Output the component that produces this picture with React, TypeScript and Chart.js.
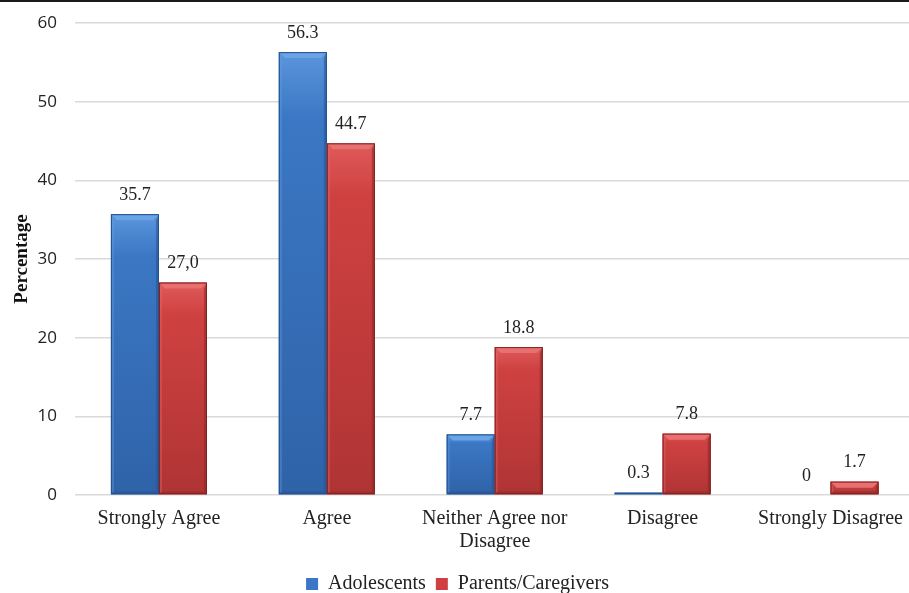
import React, { useEffect, useRef } from "react";
import { Chart, registerables } from "chart.js";

Chart.register(...registerables);

const categories: (string | string[])[] = [
  "Strongly Agree",
  "Agree",
  ["Neither Agree nor", "Disagree"],
  "Disagree",
  "Strongly Disagree",
];
const adolescents = [35.7, 56.3, 7.7, 0.3, 0];
const parents = [27.0, 44.7, 18.8, 7.8, 1.7];
const adolescentLabels = ["35.7", "56.3", "7.7", "0.3", "0"];
const parentLabels = ["27,0", "44.7", "18.8", "7.8", "1.7"];
const seriesNames = ["Adolescents", "Parents/Caregivers"];
const yTicks = { min: 0, max: 60, step: 10 };

const FONT = "'Liberation Serif', 'Times New Roman', serif";
const SANS = "'Open Sans', 'Noto Sans', sans-serif";

const palettes = [
  { top: "#5a95dc", main: "#3b77c4", bottom: "#2f63a8", light: "#6aa3e6", dark: "#275493", edge: "#24508c" },
  { top: "#e05a5a", main: "#cf4141", bottom: "#b03434", light: "#e87070", dark: "#8e2828", edge: "#7e2222" },
];

const bevelPlugin = {
  id: "bevel",
  afterDatasetsDraw(chart: any) {
    const ctx = chart.ctx as CanvasRenderingContext2D;
    chart.data.datasets.forEach((ds: any, di: number) => {
      const meta = chart.getDatasetMeta(di);
      const pal = palettes[di];
      meta.data.forEach((bar: any) => {
        const { x, y, base, width } = bar.getProps(["x", "y", "base", "width"], true);
        const h = base - y;
        if (h <= 0.5) return;
        const l = x - width / 2;
        const r = x + width / 2;
        const t = y;
        const bt = base;
        ctx.save();
        const g = ctx.createLinearGradient(0, t, 0, bt);
        g.addColorStop(0, pal.top);
        g.addColorStop(0.15, pal.main);
        g.addColorStop(1, pal.bottom);
        ctx.fillStyle = g;
        ctx.fillRect(l, t, width, h);
        const b = Math.min(6, h / 2);
        if (h > 3) {
          ctx.fillStyle = pal.light;
          ctx.beginPath();
          ctx.moveTo(l, t);
          ctx.lineTo(r, t);
          ctx.lineTo(r - b, t + b);
          ctx.lineTo(l + b, t + b);
          ctx.closePath();
          ctx.fill();
          ctx.fillStyle = pal.dark;
          ctx.globalAlpha = 0.55;
          ctx.beginPath();
          ctx.moveTo(r, t);
          ctx.lineTo(r, bt);
          ctx.lineTo(r - 3, bt - 3);
          ctx.lineTo(r - 3, t + b);
          ctx.closePath();
          ctx.fill();
          ctx.globalAlpha = 0.5;
          ctx.beginPath();
          ctx.moveTo(l, bt);
          ctx.lineTo(r, bt);
          ctx.lineTo(r - 3, bt - 3);
          ctx.lineTo(l + 3, bt - 3);
          ctx.closePath();
          ctx.fill();
          ctx.fillStyle = pal.light;
          ctx.globalAlpha = 0.35;
          ctx.beginPath();
          ctx.moveTo(l, t);
          ctx.lineTo(l + 3, t + b);
          ctx.lineTo(l + 3, bt - 3);
          ctx.lineTo(l, bt);
          ctx.closePath();
          ctx.fill();
          ctx.globalAlpha = 1;
        }
        ctx.strokeStyle = pal.edge;
        ctx.lineWidth = 1;
        ctx.strokeRect(l + 0.5, t + 0.5, width - 1, h - 1);
        ctx.restore();
      });
    });
  },
};

const labelPlugin = {
  id: "valueLabels",
  afterDatasetsDraw(chart: any) {
    const ctx = chart.ctx as CanvasRenderingContext2D;
    const texts = [adolescentLabels, parentLabels];
    ctx.save();
    ctx.font = `18px ${FONT}`;
    ctx.fillStyle = "#222";
    ctx.textAlign = "center";
    ctx.textBaseline = "middle";
    chart.data.datasets.forEach((_ds: any, di: number) => {
      const meta = chart.getDatasetMeta(di);
      meta.data.forEach((bar: any, i: number) => {
        const { x, y } = bar.getProps(["x", "y"], true);
        ctx.fillText(texts[di][i], x, y - 19);
      });
    });
    ctx.restore();
  },
};

export default function App() {
  const ref = useRef<HTMLCanvasElement>(null);
  useEffect(() => {
    if (!ref.current) return;
    const chart = new Chart(ref.current, {
      type: "bar",
      data: {
        labels: categories as any,
        datasets: [
          {
            label: seriesNames[0],
            data: adolescents,
            backgroundColor: palettes[0].main,
            borderWidth: 0,
            categoryPercentage: 0.572,
            barPercentage: 1,
          },
          {
            label: seriesNames[1],
            data: parents,
            backgroundColor: palettes[1].main,
            borderWidth: 0,
            categoryPercentage: 0.572,
            barPercentage: 1,
          },
        ],
      },
      options: {
        animation: false,
        responsive: false,
        devicePixelRatio: 1,
        layout: { padding: { top: 23, right: 0, bottom: 0, left: 0 } },
        plugins: {
          legend: {
            position: "bottom",
            labels: {
              font: { family: FONT, size: 20 },
              color: "#222",
              boxWidth: 12,
              boxHeight: 12,
              padding: 10,
            },
          },
          tooltip: { enabled: false },
        },
        scales: {
          x: {
            grid: { display: false, drawTicks: false },
            border: { display: false },
            ticks: {
              font: { family: FONT, size: 20, lineHeight: 1.15 },
              color: "#222",
              padding: 12,
              maxRotation: 0,
              autoSkip: false,
            },
            afterFit: (s: any) => {
              s.height = 69;
            },
          },
          y: {
            min: yTicks.min,
            max: yTicks.max,
            ticks: {
              stepSize: yTicks.step,
              font: { family: SANS, size: 17 },
              color: "#222",
              padding: 0,
            },
            grid: {
              color: "#d9d9d9",
              lineWidth: 1.5,
              drawTicks: true,
              tickLength: 18,
              tickColor: "rgba(0,0,0,0)",
            },
            border: { display: false },
            title: {
              display: true,
              text: "Percentage",
              font: { family: FONT, size: 19, weight: "bold" },
              color: "#111",
              padding: { top: 11, bottom: 0 },
            },
            afterFit: (s: any) => {
              s.width = 75;
            },
          },
        },
      },
      plugins: [bevelPlugin, labelPlugin],
    });
    return () => chart.destroy();
  }, []);

  return (
    <div
      style={{
        position: "absolute",
        left: 0,
        top: 0,
        width: 909,
        height: 593,
        overflow: "hidden",
        background: "#fff",
      }}
    >
      <canvas ref={ref} width={915} height={604} style={{ width: 915, height: 604, display: "block" }} />
      <div
        style={{
          position: "absolute",
          left: 0,
          top: 0,
          width: 909,
          height: 2,
          background: "#1a1a1a",
        }}
      />
    </div>
  );
}
